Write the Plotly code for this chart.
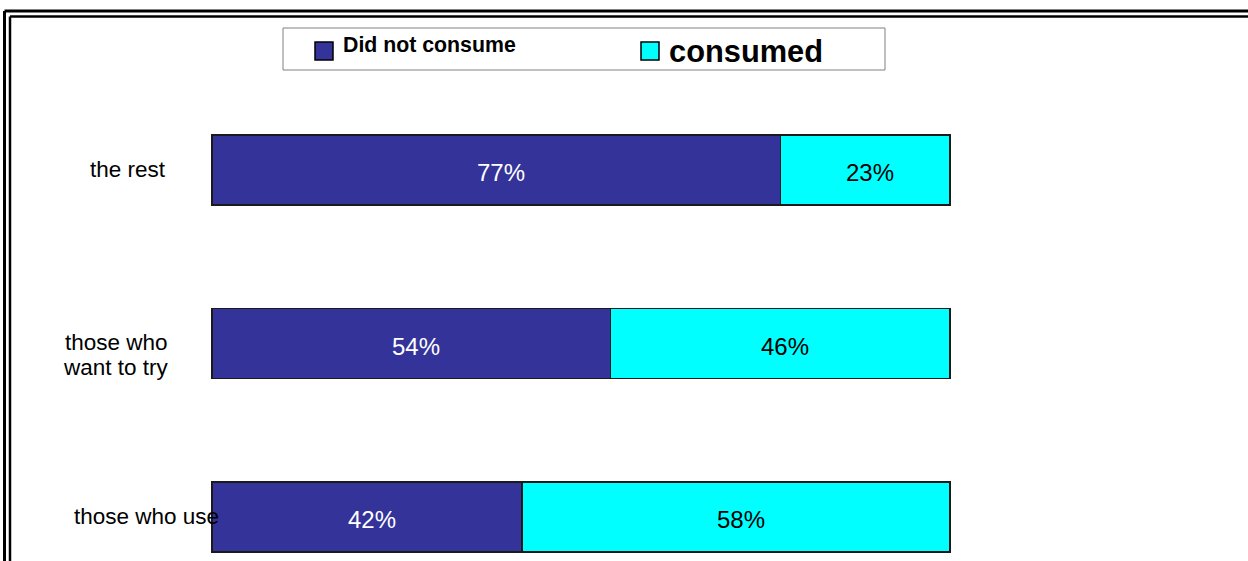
import plotly.graph_objects as go

# Survey groups (bottom to top) and their shares in percent
groups = ["those who use", "those who want to try", "the rest"]
did_not_consume = [42, 54, 77]
consumed = [58, 46, 23]

series_names = ["Did not consume", "consumed"]
series_colors = ["#333399", "#00FFFF"]
label_colors = ["white", "black"]

FONT = "Liberation Sans, Arial, sans-serif"
W, H = 1248, 561
ML, MR, MT, MB = 205, 291, 83, 0
PW, PH = W - ML - MR, H - MT - MB


def px_x(px):
    return (px - ML) / PW


def px_y(py):
    return 1 - (py - MT) / PH


fig = go.Figure()
annotations = []
stack_base = [0] * len(groups)
for name, vals, col, tcol in zip(series_names, [did_not_consume, consumed],
                                 series_colors, label_colors):
    fig.add_trace(go.Bar(
        y=groups, x=vals, name=name, orientation="h",
        width=0.4035,
        marker=dict(color=col, line=dict(color="#1a1a1a", width=1.5)),
        showlegend=False, hoverinfo="skip",
    ))
    # value labels centred in each segment
    for i, (g, v) in enumerate(zip(groups, vals)):
        annotations.append(dict(
            x=stack_base[i] + v / 2, xref="x", y=g, yref="y",
            text=f"{v}%", showarrow=False, xanchor="center", yanchor="middle",
            xshift=5, yshift=-3,
            font=dict(family=FONT, size=24, color=tcol)))
        stack_base[i] += v

# Group labels on the left
label_x = {"the rest": 127.5, "those who want to try": 116, "those who use": 146.5}
for g in groups:
    if g == "those who want to try":
        for line, dy in (("those who", 1), ("want to try", -24)):
            annotations.append(dict(
                x=px_x(label_x[g]), xref="paper", y=g, yref="y",
                text=line, showarrow=False, xanchor="center", yanchor="middle",
                yshift=dy, font=dict(family=FONT, size=22.5, color="black")))
    else:
        annotations.append(dict(
            x=px_x(label_x[g]), xref="paper", y=g, yref="y",
            text=g, showarrow=False, xanchor="center", yanchor="middle",
            yshift=0, font=dict(family=FONT, size=22.5, color="black")))

# Legend: box, colour keys and names
shapes = [
    dict(type="rect", xref="paper", yref="paper",
         x0=px_x(283), x1=px_x(885), y0=px_y(70), y1=px_y(28),
         line=dict(color="#808080", width=1), fillcolor="white", layer="above"),
    dict(type="rect", xref="paper", yref="paper",
         x0=px_x(315), x1=px_x(333), y0=px_y(60), y1=px_y(42),
         line=dict(color="black", width=1.5), fillcolor=series_colors[0], layer="above"),
    dict(type="rect", xref="paper", yref="paper",
         x0=px_x(641), x1=px_x(659), y0=px_y(60), y1=px_y(42),
         line=dict(color="black", width=1.5), fillcolor=series_colors[1], layer="above"),
]
annotations.append(dict(
    x=px_x(341), xref="paper", y=px_y(45), yref="paper",
    text="<b>" + series_names[0] + "</b>", showarrow=False,
    xanchor="left", yanchor="middle",
    font=dict(family=FONT, size=21.3, color="black")))
annotations.append(dict(
    x=px_x(667), xref="paper", y=px_y(51), yref="paper",
    text="<b>" + series_names[1] + "</b>", showarrow=False,
    xanchor="left", yanchor="middle",
    font=dict(family=FONT, size=30.8, color="black")))

# Double frame around the chart
for pos, lw in ((4.5, 3), (10, 2.5)):
    shapes.append(dict(type="line", xref="paper", yref="paper",
                       x0=px_x(pos), x1=px_x(W + 20), y0=px_y(pos + 6.5), y1=px_y(pos + 6.5),
                       line=dict(color="black", width=lw), layer="above"))
    shapes.append(dict(type="line", xref="paper", yref="paper",
                       x0=px_x(pos), x1=px_x(pos), y0=px_y(pos + 6.5), y1=px_y(H + 20),
                       line=dict(color="black", width=lw), layer="above"))

fig.update_layout(
    barmode="stack",
    width=W, height=H,
    margin=dict(l=ML, r=MR, t=MT, b=MB, autoexpand=False),
    paper_bgcolor="white", plot_bgcolor="white",
    xaxis=dict(range=[-(212 - ML) / 7.38, 100 + (957 - 950) / 7.38],
               visible=False, fixedrange=True),
    yaxis=dict(range=[-0.255, 2.5], visible=False, fixedrange=True,
               categoryorder="array", categoryarray=groups),
    shapes=shapes,
    annotations=annotations,
    font=dict(family=FONT),
)

fig.write_html("out.html", config={"displayModeBar": False})
